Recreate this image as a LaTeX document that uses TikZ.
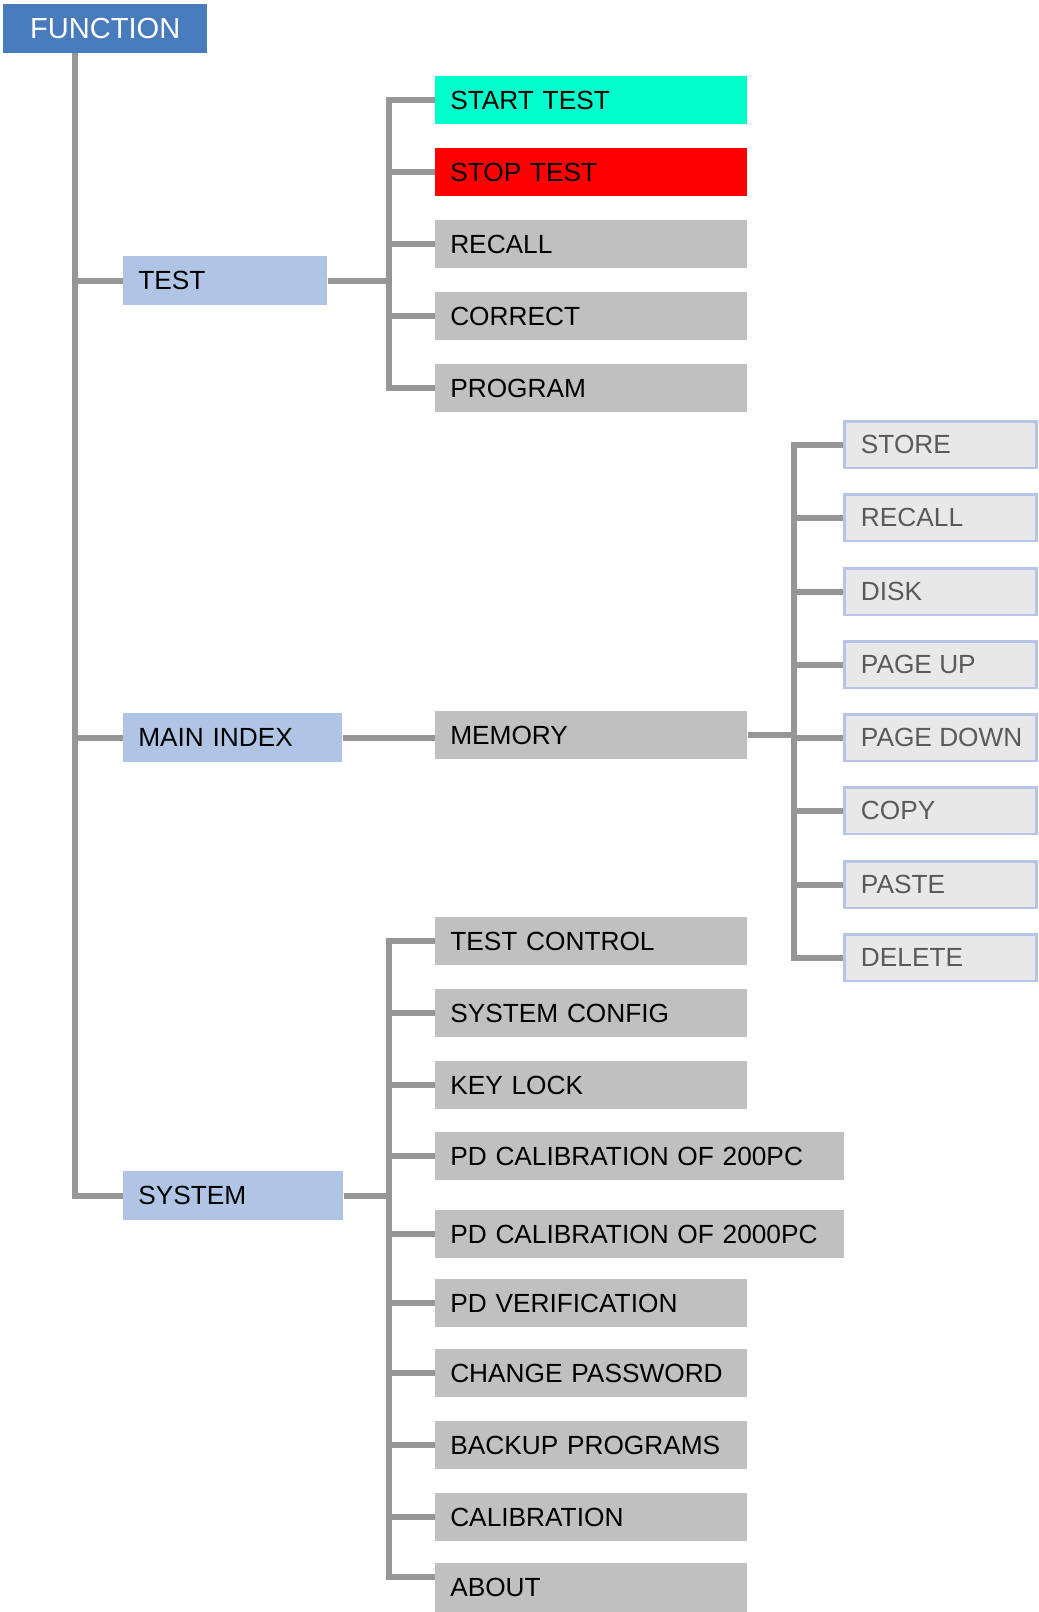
\documentclass[tikz,border=0pt]{standalone}
\usepackage{fontspec}
\setmainfont{Liberation Sans}
\begin{document}
\begin{tikzpicture}[x=0.75pt,y=-0.75pt,
  conn/.style={draw={rgb,255:red,150;green,150;blue,150},line width=4.5pt,line join=miter},
  box/.style={anchor=north west,inner xsep=11.25pt,inner ysep=0pt,minimum height=36.75pt,
     align=left,font=\fontsize{19.7pt}{22pt}\selectfont},
  rootbox/.style={anchor=north west,inner sep=0pt,minimum height=36.75pt,minimum width=153pt,
     fill={rgb,255:red,72;green,123;blue,187},text=white,font=\fontsize{21.8pt}{24pt}\selectfont},
  lvlone/.style={box,fill={rgb,255:red,176;green,197;blue,230}},
  lvltwo/.style={box,fill={rgb,255:red,192;green,192;blue,192},minimum height=36pt},
  lvlthree/.style={anchor=north west,inner xsep=12.5pt,inner ysep=0pt,minimum height=35pt,
     font=\fontsize{19.7pt}{22pt}\selectfont,fill={rgb,255:red,232;green,232;blue,232},
     draw={rgb,255:red,182;green,196;blue,234},line width=1.9pt,text={rgb,255:red,90;green,90;blue,90}},
  wA/.style={text width=211.5pt},
  wB/.style={text width=284.25pt}
]
\newcommand{\lthree}[1]{\makebox[119.3pt][l]{#1}}
\useasboundingbox (0,0) rectangle (1038,1612);

% root
\node[rootbox] (fn) at (3,4) {FUNCTION};
\coordinate (trunk) at (75,53);

% level 1
\node[lvlone,text width=130.5pt] (test) at (123,256) {TEST};
\node[lvlone,text width=141.75pt] (mainidx) at (123,713) {MAIN INDEX};
\node[lvlone,text width=142.5pt] (system) at (123,1171) {SYSTEM};

% test children
\node[lvltwo,wA,fill={rgb,255:red,0;green,255;blue,204}] (start) at (435,76) {START TEST};
\node[lvltwo,wA,fill={rgb,255:red,255;green,0;blue,0}] (stop) at (435,148) {STOP TEST};
\node[lvltwo,wA] (recall) at (435,220) {RECALL};
\node[lvltwo,wA] (correct) at (435,292) {CORRECT};
\node[lvltwo,wA] (program) at (435,364) {PROGRAM};

% memory
\node[lvltwo,wA] (memory) at (435,711) {MEMORY};
\node[lvlthree] (store) at (843,420) {\lthree{STORE}};
\node[lvlthree] (mrecall) at (843,493) {\lthree{RECALL}};
\node[lvlthree] (disk) at (843,567) {\lthree{DISK}};
\node[lvlthree] (pgup) at (843,640) {\lthree{PAGE UP}};
\node[lvlthree] (pgdown) at (843,713) {\lthree{PAGE DOWN}};
\node[lvlthree] (copy) at (843,786) {\lthree{COPY}};
\node[lvlthree] (paste) at (843,860) {\lthree{PASTE}};
\node[lvlthree] (delete) at (843,933) {\lthree{DELETE}};

% system children
\node[lvltwo,wA] (tctrl) at (435,917) {TEST CONTROL};
\node[lvltwo,wA] (sconf) at (435,989) {SYSTEM CONFIG};
\node[lvltwo,wA] (klock) at (435,1061) {KEY LOCK};
\node[lvltwo,wB] (pdcal1) at (435,1132) {PD CALIBRATION OF 200PC};
\node[lvltwo,wB] (pdcal2) at (435,1210) {PD CALIBRATION OF 2000PC};
\node[lvltwo,wA] (pdver) at (435,1279) {PD VERIFICATION};
\node[lvltwo,wA] (chpw) at (435,1349) {CHANGE PASSWORD};
\node[lvltwo,wA] (backup) at (435,1421) {BACKUP PROGRAMS};
\node[lvltwo,wA] (calib) at (435,1493) {CALIBRATION};
\node[lvltwo,wA,minimum height=37pt] (about) at (435,1563) {ABOUT};

% trunk connectors
\draw[conn] (trunk) |- (test.west);
\draw[conn] (trunk) |- (mainidx.west);
\draw[conn] (trunk) |- (system.west);

% test branch
\coordinate (tb) at (389,0);
\foreach \c in {start,stop,recall,correct,program}
  \draw[conn] (test.east) -- (test.east -| tb) |- (\c.west);

% main index to memory
\draw[conn] (mainidx.east) -- (mainidx.east -| memory.west);

% memory branch
\coordinate (mb) at (794,0);
\foreach \c in {store,mrecall,disk,pgup,pgdown,copy,paste,delete}
  \draw[conn] (memory.east) -- (memory.east -| mb) |- (\c.west);

% system branch
\coordinate (sb) at (389,0);
\foreach \c in {tctrl,sconf,klock,pdcal1,pdcal2,pdver,chpw,backup,calib}
  \draw[conn] (system.east) -- (system.east -| sb) |- (\c.west);
\draw[conn] (system.east) -- (system.east -| sb) |- ([yshift=7.9pt]about.west);
\end{tikzpicture}
\end{document}
